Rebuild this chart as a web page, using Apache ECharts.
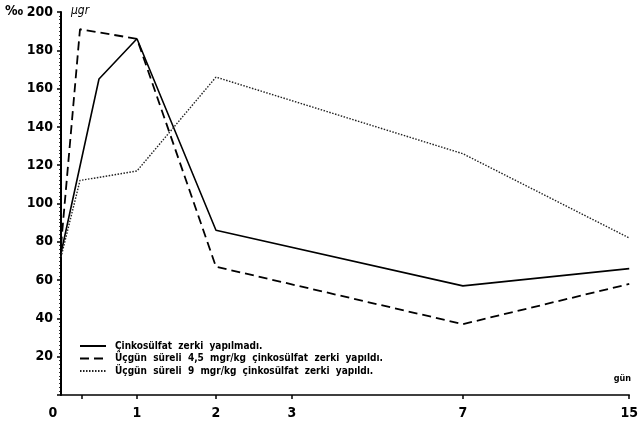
<!DOCTYPE html>
<html>
<head>
<meta charset="utf-8">
<script src="https://cdn.jsdelivr.net/npm/echarts@6/dist/echarts.min.js"></script>
<style>html,body{margin:0;padding:0;background:#fff}#c{width:641px;height:427px}</style>
</head>
<body>
<div id="c"></div>
<script>
// Axis tick days and the (non-linear) axis scale of the original drawing
var xTickDays = [0, 1, 2, 3, 7, 15];
var xTickLabels = ['0', '1', '2', '3', '7', '15'];
var xScaleUnits = [0, 1, 2.04, 3.04, 5.29, 7.48];
var xMinorTickDays = [0.27];
var yTickValues = [20, 40, 60, 80, 100, 120, 140, 160, 180, 200];

// Series (day, value)
var seriesNames = [
  'Çinkosülfat  zerki  yapılmadı.',
  'Üçgün  süreli  4,5  mgr/kg  çinkosülfat  zerki  yapıldı.',
  'Üçgün  süreli  9  mgr/kg  çinkosülfat  zerki  yapıldı.'
];
var controlDays = [0, 0.5, 1, 2, 7, 15];
var controlValues = [74, 165, 186, 86, 57, 66];
var dose45Days = [0, 0.25, 1, 2, 7, 15];
var dose45Values = [78, 191, 186, 67, 37, 58];
var dose9Days = [0, 0.25, 1, 2, 7, 15];
var dose9Values = [72, 112, 117, 166, 126, 82];

function toUnit(d) {
  for (var i = 0; i < xTickDays.length - 1; i++) {
    if (d <= xTickDays[i + 1]) {
      var t = (d - xTickDays[i]) / (xTickDays[i + 1] - xTickDays[i]);
      return xScaleUnits[i] + t * (xScaleUnits[i + 1] - xScaleUnits[i]);
    }
  }
  return xScaleUnits[xScaleUnits.length - 1];
}
function pairs(days, vals) {
  return days.map(function (d, i) { return [toUnit(d), vals[i]]; });
}

var chart = echarts.init(document.getElementById('c'), null, {renderer: 'canvas'});
var font = 'DejaVu Sans Condensed';
chart.setOption({
  animation: false,
  backgroundColor: '#fff',
  grid: {left: 61, right: 4, top: 12, bottom: 32, containLabel: false},
  xAxis: {
    type: 'value', min: 0, max: xScaleUnits[xScaleUnits.length - 1],
    splitLine: {show: false},
    axisLine: {show: true, lineStyle: {color: '#000', width: 1.6}},
    axisTick: {show: true, inside: false, length: 4, lineStyle: {color: '#000', width: 1.5},
      customValues: xTickDays.slice(1).concat(xMinorTickDays).map(toUnit)},
    axisLabel: {
      customValues: xTickDays.map(toUnit),
      margin: 11, color: '#000', fontSize: 14, fontWeight: 'bold', fontFamily: font,
      hideOverlap: false,
      formatter: function (v) {
        for (var i = 0; i < xScaleUnits.length; i++) {
          if (Math.abs(xScaleUnits[i] - v) < 1e-6) {
            return i === 0 ? '{z|' + xTickLabels[i] + '}' : xTickLabels[i];
          }
        }
        return '';
      },
      rich: {z: {padding: [0, 16, 0, 0], fontSize: 14, fontWeight: 'bold', fontFamily: font, color: '#000'}}
    }
  },
  yAxis: {
    type: 'value', min: 0, max: 200, interval: 20,
    splitLine: {show: false},
    axisLine: {show: true, lineStyle: {color: '#000', width: 2}},
    axisTick: {show: true, length: 4, lineStyle: {color: '#000', width: 1.5}},
    minorTick: {show: true, splitNumber: 10, length: 2, lineStyle: {color: '#000', width: 0.8}},
    axisLabel: {
      customValues: yTickValues,
      margin: 8, color: '#000', fontSize: 14, fontWeight: 'bold', fontFamily: font
    }
  },
  legend: {
    orient: 'vertical', left: 74, top: 336, itemWidth: 26, itemHeight: 8, itemGap: 2.5,
    textStyle: {fontSize: 10, color: '#000', fontFamily: font, fontWeight: 'bold', padding: [0, 0, 0, 4]},
    itemStyle: {opacity: 0, borderWidth: 0},
    data: seriesNames
  },
  series: [
    {name: seriesNames[0], type: 'line', symbol: 'none', data: pairs(controlDays, controlValues),
      lineStyle: {color: '#000', width: 1.6, type: 'solid'}, itemStyle: {color: '#000'}},
    {name: seriesNames[1], type: 'line', symbol: 'none', data: pairs(dose45Days, dose45Values),
      lineStyle: {color: '#000', width: 1.8, type: [9, 5]}, itemStyle: {color: '#000'}},
    {name: seriesNames[2], type: 'line', symbol: 'none', data: pairs(dose9Days, dose9Values),
      lineStyle: {color: '#222', width: 1.4, type: [1.5, 1.5]}, itemStyle: {color: '#222'}}
  ],
  graphic: [
    {type: 'text', left: 5, top: 4, style: {text: '‰', fontSize: 14, fontWeight: 'bold', fontFamily: font, fill: '#000'}},
    {type: 'text', left: 71, top: 5, style: {text: 'μgr', fontSize: 12, fontStyle: 'italic', fontFamily: font, fill: '#000'}},
    {type: 'text', right: 10, top: 374, style: {text: 'gün', fontSize: 9, fontWeight: 'bold', fontFamily: font, fill: '#000'}}
  ]
});
</script>
</body>
</html>
